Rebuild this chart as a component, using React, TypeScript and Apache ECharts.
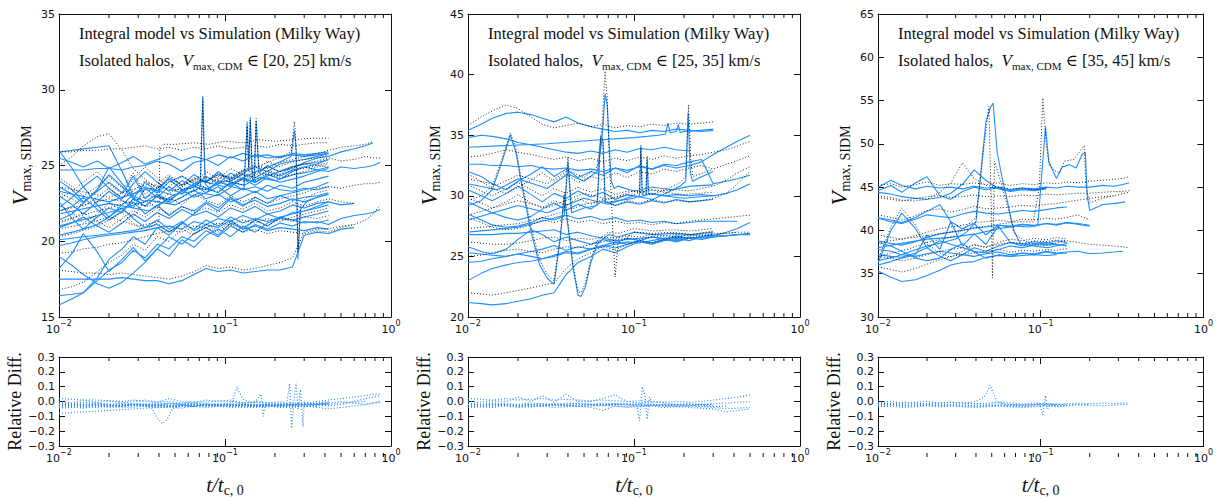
import React, { useEffect, useRef } from "react";
import * as echarts from "echarts";

const SERIF = '"Liberation Serif", "DejaVu Serif", serif';
const SANS = '"DejaVu Sans", "Liberation Sans", sans-serif';
const BLUE = "#1e90ff";
const REL_BLUE = "#2a8cff";

const Y_RANGES = [[15, 35, 5], [20, 45, 5], [30, 65, 5]];
const REL_RANGE = [-0.3, 0.3, 0.1];
const RANGE_LABELS = ["[20, 25]", "[25, 35]", "[35, 45]"];
const TITLE_LINE = "Integral model vs Simulation (Milky Way)";

// ---------- Panel 1 ----------
const T1 = [0.010, 0.012, 0.014, 0.017, 0.020, 0.024, 0.028, 0.033, 0.039, 0.046, 0.055, 0.065, 0.077, 0.091, 0.108, 0.128, 0.152, 0.18, 0.215, 0.255, 0.30, 0.36, 0.42, 0.5, 0.6, 0.7, 0.78, 0.86];
const P1_SIM = [
  [26.0, 24.8, 23.6, 22.4, 21.6, 22.4, 23.1, 23.6, 23.2, 23.9, 24.3, 23.8, 24.0, 24.4, 24.1, 24.6, 24.9, 24.6, 25.1, 25.3, 25.4, 25.6, 25.8],
  [25.9, 26.0, 26.1, 26.2, 26.3, 24.6, 23.0, 22.6, 23.1, 22.7, 23.3, 23.6, 23.4, 23.9, 23.7, 24.1, 23.9, 24.3, 24.6, 24.8, 25.2, 25.5, 25.6, 25.9, 26.1, 26.3, 26.5],
  [24.7, 24.7, 24.7, 24.8, 24.8, 24.7, 24.9, 25.0, 25.3, 25.1, 24.6, 25.2, 25.4, 25.0, 25.6, 25.3, 25.7, 25.5, 25.6, 25.7, 25.6, 25.7, 25.8],
  [24.0, 23.4, 22.6, 23.3, 23.9, 23.2, 24.3, 22.8, 23.5, 24.1, 23.4, 23.7, 23.2, 24.0, 23.6, 24.2, 23.9, 24.4, 24.1, 24.6, 24.9, 24.7, 24.6, 24.9, 24.8, 24.9, 25.0, 25.2],
  [23.0, 22.4, 21.8, 22.6, 23.3, 22.7, 22.2, 23.5, 22.9, 23.6, 23.1, 23.8, 23.5, 23.2, 23.9, 23.4, 23.6, 23.3, 23.7, 23.5, 23.9, 24.1, 24.3],
  [22.6, 21.5, 20.8, 21.6, 22.2, 21.9, 22.8, 22.3, 23.0, 22.6, 23.4, 22.9, 23.2, 23.6, 23.0, 23.5, 23.2, 23.7, 23.4, 23.3, 23.5, 23.4, 23.6],
  [22.0, 22.3, 22.9, 22.1, 21.4, 22.0, 22.6, 21.8, 22.4, 21.7, 22.3, 22.0, 22.6, 22.2, 22.9, 22.4, 22.7, 22.3, 22.5, 22.8, 22.6, 22.9, 23.1],
  [21.4, 21.8, 22.5, 23.4, 24.4, 23.6, 22.8, 23.9, 23.3, 24.2, 23.7, 24.4, 23.9, 24.6, 24.0, 24.4, 24.2, 24.6, 24.3, 24.7, 24.9, 25.1, 25.4],
  [20.9, 21.2, 21.6, 21.0, 20.6, 21.2, 21.8, 21.3, 21.9, 21.5, 22.1, 21.7, 22.0, 21.6, 22.2, 21.9, 22.3, 21.8, 22.0, 22.4, 22.2, 22.5, 22.6, 22.4, 22.5],
  [20.4, 20.6, 20.8, 21.1, 21.6, 22.2, 21.5, 20.9, 21.4, 20.8, 21.3, 20.7, 21.1, 20.9, 21.4, 20.8, 21.0, 20.7, 20.9, 20.8, 20.7, 20.9, 20.8],
  [20.1, 20.2, 20.3, 20.4, 20.5, 20.6, 20.7, 20.9, 21.1, 20.6, 21.2, 20.8, 21.4, 21.0, 21.6, 21.2, 21.5, 21.3, 21.6, 21.4, 21.2, 21.3, 21.1, 21.5, 21.7, 21.8, 21.9, 22.1],
  [19.7, 19.9, 20.1, 20.3, 20.4, 20.5, 20.6, 20.7, 20.9, 21.0, 20.8, 21.3, 21.1, 21.5, 21.3, 21.7, 21.4, 21.8, 21.5, 21.9, 22.0, 22.2, 22.4],
  [15.8, 16.2, 16.6, 17.6, 18.8, 19.5, 20.3, 19.8, 20.9, 20.4, 21.2, 21.8, 22.5, 22.0, 22.8, 22.3, 22.9, 22.5, 23.0, 23.2, 23.4, 23.6, 23.9],
  [16.4, 16.5, 16.6, 17.4, 18.1, 18.6, 19.4, 18.9, 19.8, 19.5, 20.3, 20.0, 20.7, 20.3, 21.0, 20.6, 21.1, 20.8, 21.2, 21.0, 21.3, 21.2, 21.4],
  [17.5, 17.5, 17.5, 17.5, 17.5, 17.6, 17.5, 17.4, 17.4, 17.2, 17.4, 17.8, 18.2, 18.0, 18.1, 17.9, 18.0, 18.1, 18.1, 18.3, 20.4, 20.6, 20.5, 20.8, 20.9],
  [18.2, 19.2, 20.5, 19.3, 18.0, 18.8, 19.6, 18.7, 19.5, 20.3, 19.8, 20.5, 20.9, 20.4, 21.2, 20.8, 21.4, 21.0, 21.6, 21.8, 22.0, 22.3, 22.6],
  [19.0, 18.4, 17.8, 17.2, 16.9, 17.3, 17.9, 18.6, 19.5, 19.0, 20.1, 19.6, 20.4, 20.8, 20.3, 21.0, 20.6, 21.2, 21.5, 21.4, 21.6, 21.8, 22.0],
  [25.5, 25.2, 24.9, 25.3, 24.8, 25.2, 25.6, 25.1, 25.4, 25.7, 25.3, 25.6, 25.4, 25.7, 25.5, 25.8, 25.6, 25.7, 25.5, 25.8, 25.7, 25.8, 25.9],
  [22.2, 22.9, 23.6, 24.3, 23.5, 22.8, 23.8, 24.6, 23.9, 23.3, 24.0, 23.6, 24.3, 23.8, 24.5, 24.1, 23.7, 24.2, 23.9, 24.1, 24.3, 24.6, 24.8],
  [23.6, 23.1, 22.5, 23.4, 24.9, 23.8, 22.9, 22.3, 23.0, 22.5, 22.9, 23.4, 22.8, 23.1, 22.6, 22.9, 23.3, 22.8, 23.0, 22.7, 22.9, 23.0, 23.2],
];
const P1_MOD = [
  [25.9, 25.9, 26.0, 26.0, 26.1, 26.1, 26.2, 26.3, 26.1, 26.2, 26.0, 26.2, 26.1, 26.3, 26.1, 26.2, 26.3, 26.2, 26.4, 26.3, 26.4, 26.5, 26.5],
  [25.0, 25.6, 26.3, 26.9, 27.1, 26.0, 24.8, 24.1, 23.5, 24.0, 23.6, 24.2, 23.9, 24.5, 24.2, 24.7, 25.0, 24.8, 25.2, 25.4, 25.6, 25.8, 26.0, 26.2, 26.3, 26.4, 26.6],
  [23.2, 22.8, 22.3, 22.9, 23.5, 22.9, 23.3, 24.0, 23.5, 24.3, 23.7, 24.1, 23.9, 24.4, 24.2, 24.7, 24.5, 24.9, 24.6, 24.9, 25.1, 25.3, 25.5, 25.3, 25.4, 25.6, 25.5, 25.5],
  [22.4, 21.9, 21.2, 21.8, 22.5, 22.1, 21.6, 22.7, 22.2, 22.9, 22.4, 23.1, 22.7, 22.4, 23.0, 22.6, 22.9, 22.5, 22.8, 23.0, 23.2, 23.5, 23.6, 23.5, 23.7, 23.8, 23.8, 23.9],
  [21.2, 21.5, 21.9, 21.3, 20.9, 21.5, 22.0, 21.6, 22.2, 21.8, 22.3, 21.9, 22.2, 21.9, 22.4, 22.1, 22.5, 22.0, 22.2, 22.6, 22.3, 22.6, 22.8, 22.6, 22.5],
  [20.3, 20.5, 20.7, 21.0, 21.4, 21.9, 21.2, 20.7, 21.2, 20.6, 21.1, 20.5, 20.9, 20.6, 21.1, 20.6, 20.8, 20.5, 20.7, 20.6, 20.5, 20.7, 20.6, 20.9, 21.1, 21.4, 21.8, 22.4],
  [19.2, 19.3, 19.5, 19.6, 19.8, 19.9, 20.1, 20.3, 20.5, 20.7, 20.6, 21.0, 20.9, 21.2, 21.1, 21.4, 21.2, 21.5, 21.3, 21.6, 21.8, 22.0, 22.2],
  [18.1, 18.0, 17.9, 17.9, 17.8, 17.9, 17.8, 17.7, 17.6, 17.5, 17.7, 18.0, 18.4, 18.2, 18.3, 18.1, 18.2, 18.4, 18.6, 18.9, 20.6, 20.8, 20.8, 21.0, 21.1],
  [16.8, 17.0, 17.3, 18.0, 18.6, 19.1, 19.8, 19.4, 20.3, 20.0, 20.8, 20.4, 21.1, 20.7, 21.3, 20.9, 21.4, 21.0, 21.5, 21.3, 21.6, 21.5, 21.7],
  [24.2, 23.6, 23.0, 23.6, 24.3, 23.5, 24.5, 23.1, 23.8, 24.4, 23.7, 24.0, 23.5, 24.3, 23.9, 24.5, 24.2, 24.7, 24.4, 24.9, 25.1, 25.0, 24.9],
  [22.8, 23.3, 23.9, 24.6, 23.8, 23.1, 24.1, 24.9, 24.2, 23.6, 24.3, 23.9, 24.6, 24.1, 24.8, 24.4, 24.0, 24.5, 24.2, 24.4, 24.6, 24.9, 25.1],
];
// irregular lines with narrow spikes: [times, values]
const P1_SIM_SPIKES: [number[], number[]][] = [
  [[0.01, 0.02, 0.035, 0.05, 0.065, 0.071, 0.0735, 0.0745, 0.076, 0.08, 0.1, 0.13, 0.16, 0.2, 0.26, 0.33, 0.42],
   [21.8, 22.5, 22.0, 23.1, 23.3, 23.6, 29.6, 27.0, 23.8, 23.5, 24.0, 23.7, 24.2, 24.0, 24.4, 24.6, 24.9]],
  [[0.01, 0.02, 0.035, 0.05, 0.07, 0.09, 0.11, 0.13, 0.136, 0.139, 0.142, 0.146, 0.15, 0.154, 0.16, 0.18, 0.21, 0.25, 0.3, 0.36, 0.42],
   [21.0, 21.9, 22.7, 22.4, 23.2, 23.0, 23.6, 23.4, 27.9, 24.6, 28.2, 24.2, 23.9, 27.9, 24.5, 25.0, 24.6, 24.9, 25.1, 25.2, 25.4]],
  [[0.01, 0.02, 0.035, 0.05, 0.07, 0.1, 0.14, 0.18, 0.22, 0.25, 0.262, 0.268, 0.275, 0.285, 0.31, 0.36, 0.42],
   [23.3, 22.6, 23.5, 23.0, 24.0, 23.6, 24.4, 24.9, 25.3, 25.6, 27.3, 26.0, 18.8, 22.1, 22.6, 22.9, 23.1]],
];
const P1_MOD_SPIKES: [number[], number[]][] = [
  [[0.01, 0.02, 0.035, 0.05, 0.065, 0.071, 0.0735, 0.0745, 0.076, 0.08, 0.1, 0.13, 0.16, 0.2, 0.26, 0.33, 0.42],
   [22.0, 22.8, 22.3, 23.4, 23.5, 23.9, 29.4, 26.5, 24.1, 23.8, 24.3, 24.0, 24.5, 24.3, 24.7, 24.9, 25.2]],
  [[0.01, 0.02, 0.035, 0.05, 0.07, 0.09, 0.11, 0.13, 0.136, 0.139, 0.142, 0.146, 0.15, 0.154, 0.16, 0.18, 0.21, 0.25, 0.3, 0.36, 0.42],
   [21.3, 22.2, 23.0, 22.7, 23.5, 23.3, 23.9, 23.7, 27.6, 24.9, 28.0, 24.5, 24.3, 28.1, 24.8, 25.3, 24.9, 25.2, 25.4, 25.5, 25.7]],
  [[0.01, 0.02, 0.035, 0.05, 0.07, 0.1, 0.14, 0.18, 0.22, 0.25, 0.262, 0.268, 0.275, 0.285, 0.31, 0.36, 0.42],
   [23.6, 22.9, 23.8, 23.3, 24.3, 23.9, 24.7, 25.2, 25.6, 25.9, 27.9, 26.4, 19.3, 22.4, 22.9, 23.2, 23.4]],
  [[0.01, 0.015, 0.02, 0.03, 0.04, 0.0405, 0.042, 0.05, 0.065, 0.08, 0.1, 0.13, 0.16, 0.2, 0.26, 0.33, 0.42],
   [20.8, 21.2, 21.6, 21.0, 21.3, 26.2, 26.4, 26.4, 26.5, 26.4, 26.6, 26.5, 26.7, 26.6, 26.7, 26.8, 26.8]],
];
const P1_REL = [
  [-0.08, -0.075, -0.07, -0.065, -0.06, -0.055, -0.05, -0.045, -0.04, -0.035, -0.03, -0.03, -0.025, -0.025, -0.02, -0.02, -0.02, -0.02, -0.02, -0.02, -0.02, -0.015, -0.01, 0.0, -0.01, -0.02, -0.01, -0.005],
  [0.02, 0.015, 0.01, 0.01, 0.005, 0.0, 0.01, 0.0, -0.005, 0.0, -0.01, 0.0, -0.005, 0.005, 0.0, -0.01, -0.005, -0.01, -0.015, -0.01, -0.01, 0.0, 0.01, 0.02, 0.03, 0.04, 0.05, 0.05],
  [-0.03, -0.025, -0.035, -0.02, -0.03, -0.025, -0.02, -0.03, -0.025, -0.03, -0.02, -0.025, -0.03, -0.02, -0.025, -0.03, -0.03, -0.035, -0.03, -0.04, -0.03, -0.04, -0.05, -0.04, -0.03, -0.02, -0.01, 0.0],
  [-0.01, -0.015, -0.005, -0.01, -0.02, -0.01, -0.015, -0.02, -0.01, -0.015, -0.02, -0.01, -0.02, -0.015, -0.02, -0.025, -0.02, -0.025, -0.02, -0.03, -0.02, -0.01, 0.0],
  [-0.04, -0.035, -0.045, -0.03, -0.04, -0.035, -0.04, -0.03, -0.035, -0.04, -0.03, -0.035, -0.04, -0.03, -0.04, -0.035, -0.04, -0.03, -0.035, -0.04, -0.03, -0.02, -0.01],
  [0.0, -0.01, 0.01, -0.005, 0.005, -0.01, 0.0, 0.01, -0.005, 0.02, 0.0, -0.01, 0.01, 0.0, 0.01, -0.01, 0.0, -0.01, 0.0, -0.02, -0.01, -0.02, -0.03, -0.02, 0.0, 0.02, 0.03, 0.04],
  [-0.02, -0.03, -0.02, -0.025, -0.03, -0.02, -0.03, -0.025, -0.02, -0.03, -0.025, -0.02, -0.03, -0.025, -0.035, -0.02, -0.03, -0.025, -0.03, -0.02, -0.025, -0.03, -0.02],
  [-0.025, -0.015, -0.03, -0.01, -0.025, -0.035, -0.015, -0.02, -0.03, -0.01, -0.02, -0.035, -0.015, -0.03, -0.02, -0.01, -0.03, -0.02, -0.035, -0.025, -0.02, -0.015, -0.02, -0.01, -0.005, 0.0],
  [-0.045, -0.04, -0.035, -0.04, -0.03, -0.035, -0.025, -0.03, -0.04, -0.035, -0.045, -0.03, -0.025, -0.035, -0.03, -0.04, -0.035, -0.03, -0.04, -0.03, -0.035, -0.03],
];
const P1_REL_SPIKES: [number[], number[]][] = [
  [[0.01, 0.02, 0.03, 0.036, 0.039, 0.042, 0.045, 0.048, 0.055, 0.07, 0.1, 0.13, 0.17, 0.2, 0.25, 0.3, 0.36, 0.42],
   [-0.02, -0.025, -0.02, -0.04, -0.11, -0.15, -0.12, -0.05, -0.03, -0.02, -0.025, -0.02, -0.03, -0.02, -0.025, -0.02, -0.02, -0.01]],
  [[0.01, 0.03, 0.06, 0.09, 0.11, 0.118, 0.122, 0.13, 0.15, 0.165, 0.17, 0.175, 0.19, 0.22, 0.26, 0.3, 0.36, 0.42],
   [-0.015, -0.02, -0.015, -0.02, -0.01, 0.1, 0.06, 0.01, -0.01, 0.05, -0.1, -0.02, -0.03, -0.025, -0.02, -0.025, -0.02, -0.01]],
  [[0.01, 0.03, 0.06, 0.1, 0.15, 0.2, 0.235, 0.245, 0.252, 0.26, 0.268, 0.275, 0.285, 0.295, 0.3, 0.31, 0.36, 0.42],
   [-0.03, -0.025, -0.03, -0.025, -0.03, -0.03, -0.02, 0.12, -0.18, 0.0, 0.13, -0.05, 0.08, -0.17, 0.0, -0.03, -0.02, -0.02]],
];

// ---------- Panel 2 ----------
const T2 = [0.010, 0.012, 0.014, 0.017, 0.020, 0.024, 0.028, 0.033, 0.039, 0.046, 0.055, 0.065, 0.077, 0.091, 0.108, 0.128, 0.152, 0.18, 0.215, 0.255, 0.30, 0.36, 0.42, 0.5];
const P2_SIM = [
  [35.4, 35.9, 36.4, 36.8, 36.9, 36.7, 36.4, 36.1, 36.5, 36.0, 35.7, 35.5, 35.3, 35.4, 35.2, 35.4, 35.3, 35.5, 35.4, 35.3, 35.4],
  [34.8, 35.0, 34.9, 34.7, 34.4, 34.2, 34.0, 33.8, 33.6, 33.5, 33.7, 33.5, 33.8, 33.6, 33.9, 33.8, 34.0, 33.8, 33.7],
  [32.6, 32.6, 32.5, 32.5, 32.4, 32.5, 32.3, 32.2, 32.3, 32.1, 32.2, 32.0, 32.3, 32.1, 32.4, 32.2, 32.5, 32.3, 32.5, 32.8, 33.4, 34.0, 34.5, 35.0],
  [32.0, 31.6, 31.0, 30.5, 31.2, 31.8, 32.4, 31.6, 32.2, 31.5, 32.0, 31.7, 32.3, 31.9, 32.5, 32.2, 32.6, 32.5, 32.8, 33.0, 31.0, 31.2, 31.4, 31.7],
  [30.5, 30.0, 29.6, 30.2, 30.8, 30.1, 29.5, 30.2, 29.8, 30.4, 29.9, 30.3, 29.7, 30.1, 29.9, 30.2, 30.0, 30.1, 30.0, 30.1, 30.0, 30.2, 30.5, 31.0],
  [29.5, 29.0, 28.6, 28.2, 28.0, 28.3, 28.9, 29.4, 28.8, 29.3, 28.9, 29.6, 29.2, 29.5, 29.3, 29.6, 29.4, 29.7, 29.5, 29.6, 29.7],
  [28.5, 28.0, 27.6, 27.4, 27.5, 27.8, 28.2, 28.0, 28.4, 28.1, 28.3, 28.0, 28.2, 27.9, 28.0, 27.8, 27.9, 27.7, 27.8, 27.9, 27.9, 27.9, 27.9],
  [26.8, 26.8, 26.8, 26.9, 26.9, 27.0, 27.1, 27.2, 26.8, 27.0, 26.7, 26.5, 26.3, 26.4, 26.5, 26.6, 26.5, 26.6, 26.5, 26.6, 26.7, 26.7, 26.8, 26.8],
  [25.3, 25.2, 25.1, 25.0, 25.2, 25.4, 25.6, 25.9, 25.5, 25.8, 25.6, 25.9, 26.2, 26.0, 26.3, 26.1, 26.4, 26.3, 26.5, 26.6, 26.7, 27.0, 27.3, 27.8],
  [24.5, 24.6, 24.8, 25.0, 25.2, 25.0, 24.8, 25.1, 25.4, 25.3, 25.6, 25.8, 26.0, 26.2, 26.1, 26.3, 26.5, 26.4, 26.6, 26.5, 26.6, 26.7, 26.8],
  [23.0, 23.6, 24.0, 24.3, 24.5, 24.6, 24.8, 25.0, 25.3, 25.2, 25.6, 25.9, 25.7, 26.0, 26.3, 26.1, 26.4, 26.2, 26.5, 26.4, 26.6, 26.7, 26.8, 26.9],
  [21.2, 21.1, 21.0, 21.1, 21.3, 21.5, 21.8, 22.0, 23.5, 24.5, 25.0, 25.6, 25.3, 25.8, 26.2, 26.0, 26.3, 26.5, 26.3, 26.6, 26.7],
  [25.8, 25.4, 25.2, 25.6, 26.4, 27.2, 26.8, 26.2, 26.6, 26.3, 26.0, 26.4, 26.1, 26.5, 26.3, 26.6, 26.4, 26.7, 26.5, 26.6, 26.8],
];
const P2_MOD = [
  [35.8, 36.5, 37.0, 37.5, 37.2, 36.5, 35.9, 35.6, 35.8, 36.0, 35.7, 35.9, 35.6, 35.8, 35.7, 35.9, 35.8, 36.0, 35.9, 36.0, 36.1],
  [33.2, 33.3, 33.5, 33.8, 33.6, 33.4, 33.2, 33.0, 33.2, 32.9, 33.1, 32.8, 33.1, 32.9, 33.2, 33.0, 33.3, 33.1, 33.3, 33.4, 33.6, 33.8, 34.1, 34.5],
  [31.8, 31.2, 30.6, 30.2, 30.7, 31.3, 31.9, 31.2, 31.8, 31.1, 31.6, 31.3, 31.9, 31.5, 32.0, 31.8, 32.2, 32.0, 32.3, 32.5, 32.2, 32.6, 32.9, 33.3],
  [29.8, 29.4, 29.0, 29.5, 30.1, 29.4, 29.0, 29.6, 29.2, 29.8, 29.3, 29.7, 29.2, 29.6, 29.4, 29.7, 29.5, 29.6, 29.5, 29.6, 29.8, 30.2, 31.0, 32.0],
  [28.2, 27.8, 27.4, 27.2, 27.3, 27.6, 28.0, 27.8, 28.1, 27.8, 28.0, 27.7, 27.9, 27.7, 27.8, 27.6, 27.8, 27.7, 27.9, 28.0, 28.1, 28.2, 28.3, 28.4],
  [26.2, 26.1, 26.0, 26.0, 26.1, 26.3, 26.5, 26.6, 26.3, 26.5, 26.4, 26.6, 26.5, 26.7, 26.6, 26.8, 26.7, 26.8, 26.7, 26.8, 26.9, 26.9, 27.0, 27.0],
  [25.0, 25.1, 25.3, 25.5, 25.6, 25.4, 25.3, 25.6, 25.8, 25.7, 26.0, 26.2, 26.4, 26.5, 26.4, 26.6, 26.7, 26.6, 26.8, 26.7, 26.8, 26.9, 27.0],
  [22.0, 21.9, 21.8, 22.0, 22.2, 22.4, 22.6, 22.8, 24.0, 24.8, 25.3, 25.8, 25.5, 26.0, 26.3, 26.1, 26.4, 26.6, 26.5, 26.7, 26.8],
  [30.9, 30.4, 30.0, 30.6, 31.1, 30.5, 30.0, 30.6, 30.2, 30.7, 30.3, 30.6, 30.1, 30.4, 30.3, 30.5, 30.4, 30.5, 30.4, 30.6, 30.8, 31.3, 31.9, 32.4],
];
const P2_SIM_SPIKES: [number[], number[]][] = [
  [[0.01, 0.012, 0.014, 0.016, 0.018, 0.0195, 0.021, 0.024, 0.027, 0.03, 0.033, 0.036, 0.038, 0.04, 0.043, 0.046, 0.048, 0.051, 0.055, 0.06, 0.07, 0.08, 0.1, 0.13, 0.17, 0.22, 0.3],
   [29.2, 29.6, 30.5, 32.8, 35.0, 33.5, 31.0, 27.0, 24.3, 23.2, 22.7, 26.5, 30.0, 27.5, 24.0, 21.8, 21.7, 22.5, 24.5, 26.0, 26.8, 26.6, 27.0, 26.8, 26.9, 26.8, 27.0]],
  [[0.01, 0.015, 0.02, 0.03, 0.04, 0.05, 0.06, 0.064, 0.067, 0.069, 0.071, 0.073, 0.076, 0.08, 0.1, 0.13, 0.17, 0.22, 0.3],
   [31.0, 30.5, 31.4, 30.6, 31.8, 31.2, 32.0, 34.5, 38.4, 37.5, 34.0, 31.2, 30.6, 30.8, 30.4, 30.7, 30.5, 30.8, 30.9]],
  [[0.01, 0.02, 0.03, 0.05, 0.07, 0.1, 0.13, 0.16, 0.19, 0.205, 0.212, 0.218, 0.225, 0.25, 0.3],
   [28.0, 29.2, 28.6, 29.8, 29.3, 30.0, 29.7, 30.3, 30.8, 31.2, 36.8, 32.0, 31.2, 31.5, 32.0]],
  [[0.01, 0.02, 0.03, 0.038, 0.04, 0.042, 0.05, 0.06, 0.063, 0.065, 0.067, 0.08, 0.1, 0.108, 0.11, 0.112, 0.118, 0.12, 0.122, 0.15, 0.2, 0.3],
   [27.0, 27.4, 28.0, 28.4, 32.8, 28.6, 29.0, 29.2, 34.8, 34.5, 29.4, 29.6, 29.8, 30.0, 34.2, 30.1, 30.0, 33.0, 30.2, 30.0, 29.8, 30.0]],
  [[0.01, 0.03, 0.06, 0.1, 0.14, 0.155, 0.16, 0.165, 0.18, 0.185, 0.19, 0.2, 0.25, 0.3],
   [34.0, 34.3, 34.6, 34.8, 35.0, 35.1, 36.0, 35.2, 35.3, 35.9, 35.2, 35.3, 35.4, 35.5]],
];
const P2_MOD_SPIKES: [number[], number[]][] = [
  [[0.01, 0.012, 0.014, 0.016, 0.018, 0.0195, 0.021, 0.024, 0.027, 0.03, 0.033, 0.036, 0.038, 0.04, 0.043, 0.046, 0.048, 0.051, 0.055, 0.06, 0.07, 0.08, 0.1, 0.13, 0.17, 0.22, 0.3],
   [29.6, 30.0, 30.8, 33.0, 35.2, 33.8, 31.3, 27.4, 24.7, 23.5, 23.0, 26.8, 30.3, 27.8, 24.3, 22.1, 22.0, 22.8, 24.8, 26.3, 27.0, 26.9, 27.3, 27.1, 27.2, 27.1, 27.3]],
  [[0.01, 0.015, 0.02, 0.03, 0.04, 0.05, 0.06, 0.064, 0.067, 0.069, 0.071, 0.074, 0.077, 0.08, 0.1, 0.13, 0.17, 0.22, 0.3],
   [31.4, 30.9, 31.7, 31.0, 32.1, 31.5, 32.4, 35.5, 40.3, 38.0, 33.0, 28.0, 23.3, 26.0, 27.0, 26.9, 27.0, 26.8, 27.1]],
  [[0.01, 0.02, 0.03, 0.05, 0.07, 0.1, 0.13, 0.16, 0.19, 0.205, 0.213, 0.22, 0.226, 0.25, 0.3],
   [28.4, 29.6, 29.0, 30.2, 29.7, 30.4, 30.1, 30.6, 31.1, 31.6, 37.5, 33.0, 31.6, 31.8, 32.2]],
  [[0.01, 0.02, 0.03, 0.038, 0.04, 0.042, 0.05, 0.06, 0.063, 0.065, 0.067, 0.08, 0.1, 0.108, 0.11, 0.112, 0.118, 0.12, 0.122, 0.15, 0.2, 0.3],
   [27.3, 27.7, 28.3, 28.7, 33.2, 28.9, 29.3, 29.5, 35.0, 34.6, 29.7, 29.9, 30.1, 30.3, 34.0, 30.4, 30.3, 33.3, 30.5, 30.3, 30.1, 30.3]],
];
const P2_REL = [
  [0.02, 0.015, 0.01, 0.02, 0.01, 0.015, 0.02, 0.01, 0.015, 0.01, 0.005, 0.01, 0.005, 0.0, 0.005, 0.0, -0.005, 0.0, -0.005, 0.0, 0.01, 0.02, 0.03, 0.045],
  [-0.03, -0.035, -0.03, -0.025, -0.03, -0.035, -0.03, -0.025, -0.03, -0.035, -0.03, -0.025, -0.03, -0.035, -0.03, -0.025, -0.03, -0.035, -0.03, -0.035, -0.04, -0.05, -0.045, -0.04],
  [-0.015, -0.02, -0.01, -0.015, -0.02, -0.01, -0.015, -0.02, -0.01, -0.015, -0.02, -0.01, -0.015, -0.02, -0.015, -0.02, -0.025, -0.02, -0.025, -0.02, -0.015, -0.01, -0.005, 0.0],
  [-0.025, -0.02, -0.03, -0.02, -0.025, -0.02, -0.015, -0.025, -0.02, -0.01, -0.02, -0.025, -0.02, -0.015, -0.025, -0.02, -0.03, -0.025, -0.02, -0.03, -0.035, -0.03],
  [0.0, -0.005, 0.005, 0.0, 0.03, 0.0, 0.04, -0.005, 0.05, 0.0, 0.0, 0.02, 0.045, 0.0, -0.01, 0.0, -0.01, -0.02, -0.015, -0.02, -0.02],
  [-0.04, -0.035, -0.04, -0.03, -0.04, -0.035, -0.03, -0.04, -0.035, -0.03, -0.04, -0.06, -0.03, -0.04, -0.035, -0.03, -0.04, -0.035, -0.04, -0.045, -0.05, -0.07, -0.06, -0.05],
  [-0.02, -0.03, -0.015, -0.025, -0.035, -0.02, -0.03, -0.015, -0.025, -0.03, -0.02, -0.03, -0.015, -0.025, -0.02, -0.03, -0.02, -0.025, -0.03, -0.02, -0.03],
];
const P2_REL_SPIKES: [number[], number[]][] = [
  [[0.01, 0.03, 0.06, 0.09, 0.104, 0.108, 0.112, 0.116, 0.12, 0.124, 0.13, 0.16, 0.2, 0.25, 0.3],
   [-0.02, -0.025, -0.02, -0.02, -0.03, -0.13, 0.1, 0.05, -0.12, 0.03, -0.02, -0.025, -0.02, -0.02, -0.02]],
];

// ---------- Panel 3 ----------
const T3 = [0.010, 0.012, 0.014, 0.017, 0.020, 0.024, 0.028, 0.033, 0.039, 0.046, 0.055, 0.065, 0.077, 0.091, 0.108, 0.125, 0.145, 0.17, 0.2, 0.24, 0.28, 0.32, 0.35];
const P3_SIM = [
  [45.0, 45.8, 45.2, 44.8, 45.1, 44.9, 45.0, 44.8, 45.1, 44.9, 45.0, 44.7, 44.9, 44.8, 45.0, 44.9, 45.1, 45.0, 45.0, 45.2, 45.1, 45.3, 45.5],
  [44.4, 44.2, 43.9, 43.7, 43.6, 43.8, 44.3, 45.3, 47.0, 45.8, 44.8, 44.5, 44.7, 44.6, 44.8],
  [44.6, 45.2, 44.4, 45.5, 46.2, 44.0, 43.6, 44.5, 45.0, 44.7, 44.9, 44.6, 44.8, 44.7, 44.9],
  [41.4, 41.0, 40.8, 41.3, 41.8, 41.6, 41.5, 41.9, 42.2, 42.0, 41.9, 42.1, 42.3, 42.2, 42.4, 42.6, 42.7],
  [38.8, 38.5, 38.3, 38.7, 39.2, 39.6, 39.8, 40.0, 40.3, 40.4, 40.6, 40.5, 40.7, 40.6, 40.8, 40.7, 40.9, 40.8, 40.6],
  [37.8, 37.6, 37.2, 37.0, 37.3, 37.6, 37.4, 37.2, 37.0, 37.3, 37.5, 37.2, 37.4, 37.3, 37.6, 37.4, 37.5, 37.6, 37.3, 37.4, 37.5, 37.6],
  [35.3, 34.6, 34.1, 34.3, 34.8, 35.4, 36.0, 36.3, 36.4, 36.9, 37.1, 37.0, 37.1, 37.2, 37.1, 37.2],
  [36.2, 40.0, 42.0, 40.2, 38.0, 37.0, 36.5, 37.2, 38.0, 37.6, 38.2, 38.6, 38.4, 38.7, 38.5, 38.8, 38.6],
  [41.5, 41.2, 40.9, 41.5, 42.2, 43.0, 41.0, 40.2, 40.8, 39.5, 40.6, 40.4, 40.7, 40.5, 40.8, 40.6, 40.9, 40.7, 40.5],
  [38.6, 38.2, 37.6, 36.8, 36.5, 36.8, 37.8, 38.5, 37.5, 36.8, 37.2, 37.0, 37.4, 37.2, 37.5, 37.3, 37.4],
  [37.2, 37.0, 36.9, 37.4, 38.0, 38.8, 38.4, 38.0, 37.6, 37.4, 37.8, 38.2, 38.0, 38.3, 38.6, 38.4, 38.2],
  [36.0, 36.4, 36.8, 37.2, 39.5, 37.8, 41.0, 38.2, 39.6, 38.4, 40.5, 38.6, 38.2, 38.5, 38.3, 38.4],
];
const P3_MOD = [
  [45.2, 45.4, 45.0, 45.3, 45.6, 45.2, 45.4, 45.3, 45.5, 45.3, 45.5, 45.2, 45.4, 45.3, 45.5, 45.4, 45.6, 45.5, 45.7, 45.8, 45.9, 46.0, 46.2],
  [43.8, 43.6, 43.4, 43.7, 43.9, 44.0, 43.8, 43.9, 44.1, 43.9, 44.0, 43.9, 44.1, 44.0, 44.2, 44.1, 44.2, 44.3, 44.3, 44.4, 44.5, 44.5, 44.6],
  [41.8, 41.5, 41.2, 41.7, 42.3, 42.5, 42.1, 42.4, 42.8, 42.5, 42.6, 42.7, 42.9, 42.8, 43.0, 43.1, 43.3, 43.5, 43.7, 43.9, 44.0],
  [39.5, 39.2, 39.0, 39.4, 39.8, 40.2, 40.4, 40.6, 40.9, 41.0, 41.2, 41.0, 41.3, 41.2, 41.4, 41.3, 41.5, 41.8, 41.2],
  [37.0, 36.8, 36.5, 36.8, 37.2, 37.6, 37.8, 38.0, 38.3, 38.1, 38.4, 38.6, 38.5, 38.8, 38.7, 38.9, 38.8, 38.6, 38.4, 38.3, 38.2, 38.1, 38.0],
  [35.8, 35.5, 35.2, 35.6, 36.1, 36.6, 37.0, 37.2, 37.4, 37.6, 37.8, 37.5, 37.7, 37.6, 37.8, 37.7, 37.9],
  [44.0, 43.8, 43.5, 43.4, 43.6, 44.4, 45.5, 47.8, 46.0, 45.2, 45.0, 44.8, 44.9, 44.7, 44.9],
  [36.6, 40.4, 42.6, 40.6, 38.4, 37.4, 36.9, 37.6, 38.4, 38.0, 38.6, 39.0, 38.8, 39.1, 38.9, 39.2, 39.0],
];
const P3_SIM_SPIKES: [number[], number[]][] = [
  [[0.01, 0.014, 0.02, 0.028, 0.04, 0.055, 0.07, 0.085, 0.096, 0.102, 0.107, 0.112, 0.118, 0.125, 0.135, 0.15, 0.165, 0.18, 0.188, 0.193, 0.2, 0.24, 0.28, 0.33],
   [38.0, 38.5, 39.0, 39.2, 39.6, 40.2, 40.5, 40.4, 40.6, 47.0, 52.0, 48.0, 47.0, 46.0, 47.3, 47.6, 47.2, 48.8, 49.0, 44.0, 42.3, 43.0, 43.1, 43.3]],
  [[0.01, 0.013, 0.016, 0.02, 0.025, 0.03, 0.035, 0.04, 0.043, 0.046, 0.049, 0.051, 0.054, 0.058, 0.063, 0.068, 0.075, 0.09, 0.11, 0.13, 0.145],
   [36.5, 37.0, 37.6, 38.2, 38.6, 39.0, 39.8, 41.0, 47.0, 52.5, 54.2, 54.7, 49.0, 46.0, 43.0, 40.0, 38.5, 38.2, 38.0, 38.3, 38.5]],
];
const P3_MOD_SPIKES: [number[], number[]][] = [
  [[0.01, 0.015, 0.02, 0.03, 0.04, 0.045, 0.048, 0.0495, 0.0505, 0.052, 0.056, 0.062, 0.07, 0.085, 0.1, 0.12, 0.145],
   [37.0, 37.8, 38.6, 39.4, 41.5, 50.0, 54.3, 44.0, 34.5, 48.0, 46.0, 43.0, 39.5, 38.5, 38.2, 38.5, 38.8]],
  [[0.01, 0.02, 0.03, 0.05, 0.07, 0.09, 0.098, 0.103, 0.108, 0.113, 0.12, 0.13, 0.14, 0.16, 0.18, 0.185, 0.19, 0.2, 0.24, 0.28, 0.35],
   [38.6, 39.4, 39.9, 40.6, 41.0, 41.0, 45.0, 55.3, 50.0, 47.5, 47.0, 46.6, 48.0, 48.2, 49.5, 49.8, 45.0, 43.2, 43.7, 44.0, 44.4]],
];
const P3_REL = [
  [-0.01, -0.015, -0.005, -0.01, -0.015, -0.01, -0.005, -0.01, -0.015, -0.01, -0.005, -0.01, -0.015, -0.01, -0.015, -0.02, -0.015, -0.01, -0.015, -0.01, -0.015, -0.01, -0.01],
  [-0.025, -0.02, -0.03, -0.025, -0.02, -0.03, -0.025, -0.03, -0.035, -0.03, -0.025, -0.03, -0.035, -0.03, -0.025, -0.03, -0.025, -0.02, -0.025, -0.03, -0.025, -0.02, -0.02],
  [-0.005, 0.0, -0.01, -0.005, 0.0, -0.01, -0.005, -0.01, -0.015, -0.02, -0.015, -0.02, -0.025, -0.02, -0.015, -0.02],
  [-0.035, -0.03, -0.04, -0.035, -0.03, -0.035, -0.03, -0.035, -0.04, -0.035, -0.03, -0.035, -0.04, -0.035, -0.03, -0.035, -0.03],
];
const P3_REL_SPIKES: [number[], number[]][] = [
  [[0.01, 0.02, 0.03, 0.04, 0.045, 0.049, 0.051, 0.054, 0.06, 0.08, 0.1, 0.145],
   [-0.02, -0.015, -0.02, 0.0, 0.03, 0.11, 0.06, 0.0, -0.02, -0.025, -0.02, -0.02]],
  [[0.01, 0.03, 0.06, 0.09, 0.098, 0.103, 0.107, 0.11, 0.115, 0.125, 0.15, 0.2],
   [-0.03, -0.025, -0.03, -0.02, -0.01, -0.09, 0.04, -0.05, -0.02, -0.03, -0.025, -0.02]],
];

const PANELS = [
  { t: T1, sim: P1_SIM, mod: P1_MOD, simSp: P1_SIM_SPIKES, modSp: P1_MOD_SPIKES, rel: P1_REL, relSp: P1_REL_SPIKES },
  { t: T2, sim: P2_SIM, mod: P2_MOD, simSp: P2_SIM_SPIKES, modSp: P2_MOD_SPIKES, rel: P2_REL, relSp: P2_REL_SPIKES },
  { t: T3, sim: P3_SIM, mod: P3_MOD, simSp: P3_SIM_SPIKES, modSp: P3_MOD_SPIKES, rel: P3_REL, relSp: P3_REL_SPIKES },
];

// layout
const COL_LEFT = [59, 468, 878];
const COL_W = 332;
const TOP_Y = 14, TOP_H = 303;
const BOT_Y = 357, BOT_H = 100;

function pairs(t: number[], v: number[]) {
  return v.map((y, i) => [t[i], y]);
}

function supLabel(v: number) {
  const e = Math.round(Math.log10(v));
  const s = e < 0 ? "\u2212" + Math.abs(e) : String(e);
  return `{b|10}{s|${s}}`;
}

function buildOption() {
  const grids: any[] = [];
  const xAxes: any[] = [];
  const yAxes: any[] = [];
  const series: any[] = [];
  const axisLine = { show: true, onZero: false, lineStyle: { color: "#111", width: 1 } };
  const tickStyle = { color: "#111", width: 1 };
  const xRich = {
    b: { fontFamily: SANS, fontSize: 11, color: "#111", lineHeight: 16, verticalAlign: "bottom" },
    s: { fontFamily: SANS, fontSize: 8, color: "#111", lineHeight: 9, verticalAlign: "top" },
  };
  for (let g = 0; g < 6; g++) {
    const col = g % 3;
    const row = g < 3 ? 0 : 1;
    grids.push({
      left: COL_LEFT[col],
      top: row === 0 ? TOP_Y : BOT_Y,
      width: COL_W,
      height: row === 0 ? TOP_H : BOT_H,
      containLabel: false,
    });
    const xBase = {
      type: "log",
      logBase: 10,
      min: 0.01,
      max: 1,
      gridIndex: g,
      axisLine,
      splitLine: { show: false },
      axisTick: { show: true, inside: true, length: 7, lineStyle: tickStyle },
    };
    xAxes.push({
      ...xBase,
      position: "bottom",
      axisLabel: { show: true, margin: 2, formatter: supLabel, rich: xRich },
      name: row === 1 ? "{i|t/t}{s|c, 0}" : "",
      nameLocation: "middle",
      nameGap: 27,
      nameTextStyle: {
        rich: {
          i: { fontFamily: SERIF, fontStyle: "italic", fontSize: 21, color: "#111", lineHeight: 24 },
          s: { fontFamily: SERIF, fontSize: 14, color: "#111", lineHeight: 14, verticalAlign: "bottom" },
        },
      },
    });
    xAxes.push({ ...xBase, position: "top", axisLabel: { show: false } });
    const [ymin, ymax, yint] = row === 0 ? Y_RANGES[col] : REL_RANGE;
    const yBase = {
      type: "value",
      min: ymin,
      max: ymax,
      interval: yint,
      gridIndex: g,
      axisLine,
      splitLine: { show: false },
      axisTick: { show: true, inside: true, length: 6, lineStyle: tickStyle },
    };
    yAxes.push({
      ...yBase,
      position: "left",
      axisLabel: {
        show: true,
        margin: 4,
        fontFamily: SANS,
        fontSize: 11,
        color: "#111",
        formatter: (v: number) =>
          row === 0 ? String(Math.round(v)) : (Math.round(v * 10) / 10).toFixed(1).replace("-", "\u2212"),
      },
      name: row === 0 ? "{v|V}{s|max, SIDM}" : "Relative Diff.",
      nameLocation: "middle",
      nameRotate: 90,
      nameGap: row === 0 ? 26 : 31,
      nameTextStyle:
        row === 0
          ? {
              rich: {
                v: { fontFamily: SERIF, fontStyle: "italic", fontSize: 23, color: "#111", lineHeight: 26 },
                s: { fontFamily: SERIF, fontSize: 14, color: "#111", lineHeight: 14, verticalAlign: "bottom" },
              },
            }
          : { fontFamily: SERIF, fontSize: 18, color: "#111" },
    });
    yAxes.push({ ...yBase, position: "right", axisLabel: { show: false } });
  }

  const addLine = (g: number, data: number[][], kind: "sim" | "mod" | "rel") => {
    series.push({
      type: "line",
      xAxisIndex: g * 2,
      yAxisIndex: g * 2,
      data,
      symbol: "none",
      showSymbol: false,
      silent: true,
      clip: true,
      z: kind === "mod" ? 3 : 2,
      lineStyle:
        kind === "sim"
          ? { color: BLUE, width: 1.1, type: "solid" }
          : kind === "mod"
          ? { color: "#000", width: 1, type: [1, 2], opacity: 0.85 }
          : { color: REL_BLUE, width: 1.2, type: [1, 2], opacity: 1 },
    });
  };

  PANELS.forEach((p, col) => {
    p.sim.forEach((v) => addLine(col, pairs(p.t, v), "sim"));
    p.simSp.forEach(([t, v]) => addLine(col, pairs(t, v), "sim"));
    p.mod.forEach((v) => addLine(col, pairs(p.t, v), "mod"));
    p.modSp.forEach(([t, v]) => addLine(col, pairs(t, v), "mod"));
    p.rel.forEach((v) => addLine(col + 3, pairs(p.t, v), "rel"));
    p.relSp.forEach(([t, v]) => addLine(col + 3, pairs(t, v), "rel"));
  });

  return {
    animation: false,
    backgroundColor: "#fff",
    grid: grids,
    xAxis: xAxes,
    yAxis: yAxes,
    series,
  };
}

export default function App() {
  const ref = useRef<HTMLDivElement>(null);
  useEffect(() => {
    if (!ref.current) return;
    const chart = echarts.init(ref.current, null, { renderer: "svg" });
    chart.setOption(buildOption() as any);

    const graphics: any[] = [];
    // minor ticks on log axes
    for (let g = 0; g < 6; g++) {
      const row = g < 3 ? 0 : 1;
      const top = row === 0 ? TOP_Y : BOT_Y;
      const bottom = top + (row === 0 ? TOP_H : BOT_H);
      for (const d of [0.01, 0.1]) {
        for (let m = 2; m <= 9; m++) {
          const px = chart.convertToPixel({ xAxisIndex: g * 2 } as any, m * d) as unknown as number;
          if (typeof px !== "number" || isNaN(px)) continue;
          graphics.push({
            type: "line",
            silent: true,
            z: 10,
            shape: { x1: px, y1: bottom, x2: px, y2: bottom - 4 },
            style: { stroke: "#111", lineWidth: 1 },
          });
          graphics.push({
            type: "line",
            silent: true,
            z: 10,
            shape: { x1: px, y1: top, x2: px, y2: top + 4 },
            style: { stroke: "#111", lineWidth: 1 },
          });
        }
      }
    }
    // annotations
    for (let col = 0; col < 3; col++) {
      graphics.push({
        type: "text",
        silent: true,
        z: 20,
        x: COL_LEFT[col] + 20,
        y: 25,
        style: { text: TITLE_LINE, font: `16.5px ${SERIF}`, fill: "#111" },
      });
      graphics.push({
        type: "text",
        silent: true,
        z: 20,
        x: COL_LEFT[col] + 20,
        y: 50,
        style: {
          text: `{n|Isolated halos,  }{v|V}{s|max, CDM}{n| \u2208 ${RANGE_LABELS[col]} km/s}`,
          fill: "#111",
          rich: {
            n: { fontFamily: SERIF, fontSize: 16.5, lineHeight: 21, fill: "#111" },
            v: { fontFamily: SERIF, fontStyle: "italic", fontSize: 17, lineHeight: 21, fill: "#111" },
            s: { fontFamily: SERIF, fontSize: 11, lineHeight: 11, verticalAlign: "bottom", fill: "#111" },
          },
        },
      });
    }
    chart.setOption({ graphic: graphics } as any);
    return () => chart.dispose();
  }, []);
  return (
    <div
      ref={ref}
      style={{ position: "fixed", left: 0, top: 0, width: 1216, height: 498, background: "#fff" }}
    />
  );
}
